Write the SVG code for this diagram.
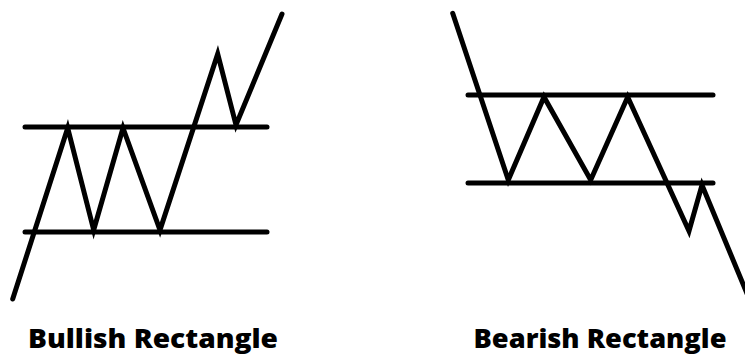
<svg xmlns="http://www.w3.org/2000/svg" width="745" height="356" viewBox="0 0 745 356">
<style>
.ln{fill:none;stroke:#000;stroke-width:5;stroke-linecap:round;stroke-linejoin:miter;stroke-miterlimit:10}
.lbl{font-family:"Open Sans","Liberation Sans",sans-serif;font-weight:800;font-size:27px;fill:#000;text-anchor:middle}
</style>
<rect width="745" height="356" fill="#fff"/>
<g id="bullish">
<line class="ln" x1="25" y1="127" x2="267" y2="127"/>
<line class="ln" x1="25" y1="232" x2="267" y2="232"/>
<polyline class="ln" points="12.7,299 67.7,128 93.7,230 123,128 160,230 217.7,54 236,125 282,14"/>
<text class="lbl" x="153" y="348" textLength="250" lengthAdjust="spacingAndGlyphs">Bullish Rectangle</text>
</g>
<g id="bearish">
<line class="ln" x1="468" y1="95" x2="713" y2="95"/>
<line class="ln" x1="468" y1="183" x2="713" y2="183"/>
<polyline class="ln" points="452.7,13.3 508.3,180 544,97 590.7,180 627.7,97 689,231 702,185 748,296"/>
<text class="lbl" x="600" y="348" textLength="253" lengthAdjust="spacingAndGlyphs">Bearish Rectangle</text>
</g>
</svg>
